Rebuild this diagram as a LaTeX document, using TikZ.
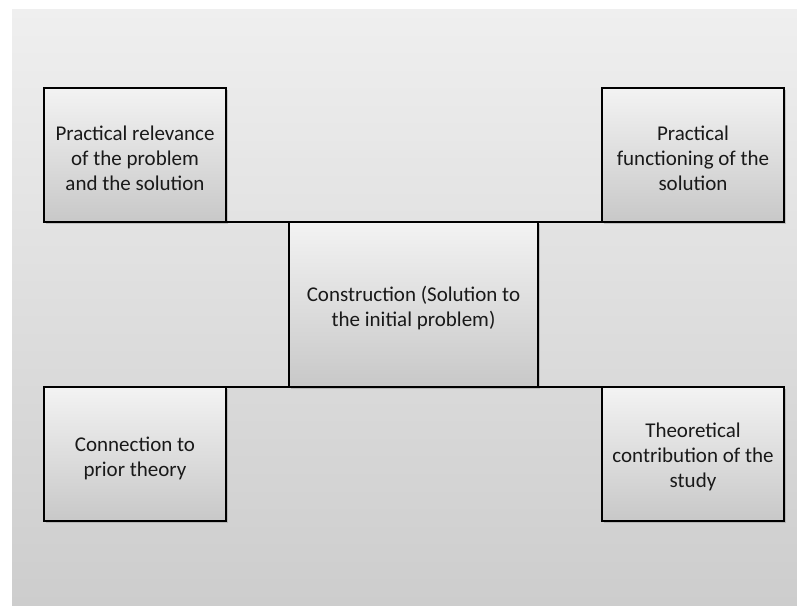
\documentclass[tikz,border=0pt]{standalone}
\usepackage{fontspec}
\setmainfont{Carlito}
\usetikzlibrary{shadows}
\definecolor{boxtop}{HTML}{F3F3F3}
\definecolor{boxbot}{HTML}{C8C8C8}
\definecolor{paneltop}{HTML}{EFEFEF}
\definecolor{panelbot}{HTML}{CDCDCD}
\tikzset{
  card/.style={draw=black, line width=1.6pt, top color=boxtop, bottom color=boxbot,
    drop shadow={opacity=0.35, shadow xshift=2pt, shadow yshift=-2pt},
    inner sep=0pt, outer sep=0pt},
  sidebox/.style={card, minimum width=182pt, minimum height=134pt},
  cardtext/.style={align=center, font=\fontsize{21}{25}\selectfont, text=black!90,
    inner sep=0pt},
  link/.style={draw=black, line width=1.6pt}
}
\begin{document}
\begin{tikzpicture}[x=1pt, y=-1pt]
  \useasboundingbox (0,0) rectangle (797,605);
  % backdrop panel
  \shade[top color=paneltop, bottom color=panelbot] (12,9) rectangle (797,605);

  % boxes
  \node[sidebox] (tl) at (135,155) {};
  \node[sidebox] (tr) at (693,155) {};
  \node[sidebox] (bl) at (135,454) {};
  \node[sidebox] (br) at (693,454) {};
  \node[card, minimum width=249pt, minimum height=165pt] (c) at (413.5,304.5) {};

  % captions, set a little below each box centre
  \node[cardtext] (tl-text) at ([yshift=-3pt]tl.center) {Practical relevance\\of the problem\\and the solution};
  \node[cardtext] (tr-text) at ([yshift=-3pt]tr.center) {Practical\\functioning of the\\solution};
  \node[cardtext] (bl-text) at ([yshift=-4pt]bl.center) {Connection to\\prior theory};
  \node[cardtext] (br-text) at ([yshift=-3pt]br.center) {Theoretical\\contribution of the\\study};
  \node[cardtext] (c-text) at ([yshift=-4pt]c.center) {Construction (Solution to\\the initial problem)};

  % corner links
  \draw[link] (tl.south east) -- (c.north west);
  \draw[link] (c.north east) -- (tr.south west);
  \draw[link] (bl.north east) -- (c.south west);
  \draw[link] (c.south east) -- (br.north west);
\end{tikzpicture}
\end{document}
